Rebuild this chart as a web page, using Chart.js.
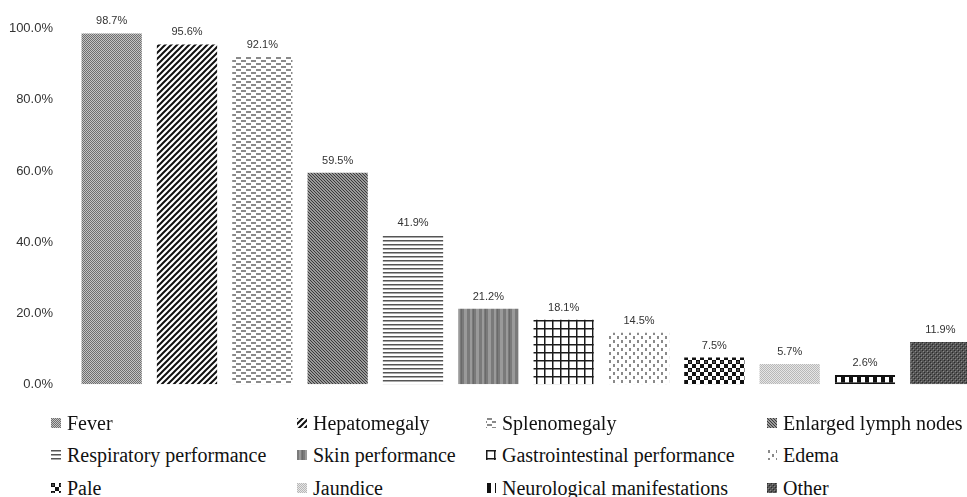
<!DOCTYPE html>
<html>
<head>
<meta charset="utf-8">
<script src="https://cdn.jsdelivr.net/npm/chart.js@4"></script>
<style>
   body { margin: 0; background: #fff; overflow: hidden; width: 967px; height: 497px; position: relative; }
   #wrap { position: absolute; left: 0; top: 0; width: 980px; height: 413px; }
   .legende { position: absolute; font-family: "Liberation Serif", "Times New Roman", serif; font-size: 20px; color: #111; white-space: nowrap; line-height: 22px; }
   .legende canvas { position: absolute; left: -16px; top: 6px; }
</style>
</head>
<body>
<div id="wrap"><canvas id="graphique" width="980" height="413"></canvas></div>
<div id="legende"></div>
<script>
const categories = ['Fever', 'Hepatomegaly', 'Splenomegaly', 'Enlarged lymph nodes',
   'Respiratory performance', 'Skin performance', 'Gastrointestinal performance', 'Edema',
   'Pale', 'Jaundice', 'Neurological manifestations', 'Other'];
const valeurs = [98.7, 95.6, 92.1, 59.5, 41.9, 21.2, 18.1, 14.5, 7.5, 5.7, 2.6, 11.9];
const ticks_y = [0, 20, 40, 60, 80, 100];

// motifs en niveaux de gris, un par barre
function motif(taille_x, taille_y, dessin) {
   const c = document.createElement('canvas');
   c.width = taille_x; c.height = taille_y;
   const g = c.getContext('2d');
   dessin(g, taille_x, taille_y);
   return c;
}

const motifs = [
   // Fever : damier fin gris
   motif(2, 2, (g) => { g.fillStyle = '#c4c4c4'; g.fillRect(0, 0, 2, 2); g.fillStyle = '#6e6e6e'; g.fillRect(0, 0, 1, 1); g.fillRect(1, 1, 1, 1); }),
   // Hepatomegaly : diagonales noires
   motif(6, 6, (g, w, h) => { g.fillStyle = '#fff'; g.fillRect(0, 0, w, h); g.strokeStyle = '#111'; g.lineWidth = 2;
      g.beginPath(); g.moveTo(-1, 7); g.lineTo(7, -1); g.moveTo(-4, 4); g.lineTo(4, -4); g.moveTo(2, 10); g.lineTo(10, 2); g.stroke(); }),
   // Splenomegaly : petits tirets
   motif(10, 6, (g, w, h) => { g.fillStyle = '#fff'; g.fillRect(0, 0, w, h); g.fillStyle = '#8a8a8a';
      g.fillRect(1, 0, 5, 2); g.fillRect(6, 3, 5, 2); g.fillRect(0, 3, 1, 2); }),
   // Enlarged lymph nodes : diagonales serrees
   motif(3, 3, (g) => { g.fillStyle = '#9a9a9a'; g.fillRect(0, 0, 3, 3); g.fillStyle = '#3a3a3a'; g.fillRect(0, 0, 1, 1); g.fillRect(1, 1, 1, 1); g.fillRect(2, 2, 1, 1); }),
   // Respiratory : horizontales
   motif(4, 4, (g) => { g.fillStyle = '#fff'; g.fillRect(0, 0, 4, 4); g.fillStyle = '#555'; g.fillRect(0, 0, 4, 1.5); }),
   // Skin : bandes verticales
   motif(12, 4, (g) => { g.fillStyle = '#7a7a7a'; g.fillRect(0, 0, 12, 4); g.fillStyle = '#9a9a9a'; g.fillRect(2, 0, 2, 4); g.fillRect(8, 0, 3, 4); g.fillStyle = '#6a6a6a'; g.fillRect(5, 0, 1, 4); }),
   // Gastrointestinal : grille
   motif(8, 8, (g) => { g.fillStyle = '#fff'; g.fillRect(0, 0, 8, 8); g.fillStyle = '#1a1a1a'; g.fillRect(0, 0, 8, 1.5); g.fillRect(0, 0, 1.5, 8); }),
   // Edema : points
   motif(8, 8, (g) => { g.fillStyle = '#fff'; g.fillRect(0, 0, 8, 8); g.fillStyle = '#8a8a8a'; g.fillRect(1, 0, 2, 3); g.fillRect(5, 4, 2, 3); }),
   // Pale : damier noir
   motif(8, 8, (g) => { g.fillStyle = '#fff'; g.fillRect(0, 0, 8, 8); g.fillStyle = '#111'; g.fillRect(0, 0, 4, 4); g.fillRect(4, 4, 4, 4);
      g.fillStyle = '#fff'; g.fillRect(1.5, 1.5, 1, 1); }),
   // Jaundice : damier clair
   motif(2, 2, (g) => { g.fillStyle = '#e6e6e6'; g.fillRect(0, 0, 2, 2); g.fillStyle = '#b8b8b8'; g.fillRect(0, 0, 1, 1); g.fillRect(1, 1, 1, 1); }),
   // Neurological : carres noirs
   motif(8, 4, (g) => { g.fillStyle = '#fff'; g.fillRect(0, 0, 8, 4); g.fillStyle = '#111'; g.fillRect(1, 0, 4, 4); }),
   // Other : damier fonce
   motif(4, 4, (g) => { g.fillStyle = '#555'; g.fillRect(0, 0, 4, 4); g.fillStyle = '#2a2a2a'; g.fillRect(0, 0, 1, 1); g.fillRect(2, 2, 1, 1); g.fillStyle = '#888'; g.fillRect(1, 1, 1, 1); g.fillRect(3, 3, 1, 1); })
];

const ctx = document.getElementById('graphique');
const c2d = ctx.getContext('2d');
const fonds = motifs.map(m => c2d.createPattern(m, 'repeat'));

// etiquettes au-dessus des barres
const etiquettes = {
   id: 'etiquettes',
   afterDatasetsDraw(chart) {
      const g = chart.ctx;
      const meta = chart.getDatasetMeta(0);
      g.save();
      g.font = '11px "Liberation Sans Narrow", "Liberation Sans", Arial, sans-serif';
      g.fillStyle = '#333';
      g.textAlign = 'center';
      g.textBaseline = 'alphabetic';
      meta.data.forEach((bar, i) => {
         g.fillText(valeurs[i].toFixed(1) + '%', bar.x, bar.y - 9);
      });
      g.restore();
   }
};

const myChart = new Chart(ctx, {
   type: 'bar',
   data: {
      labels: categories,
      datasets: [{
         data: valeurs,
         backgroundColor: fonds,
         borderColor: categories.map((c, i) => i === 10 ? '#111' : 'transparent'),
         borderWidth: categories.map((c, i) => i === 10 ? { top: 2, bottom: 2, left: 0, right: 0 } : 0),
         borderSkipped: false,
         barPercentage: 0.8,
         categoryPercentage: 1
      }]
   },
   options: {
      responsive: false,
      animation: false,
      layout: {
         padding: { top: 28, bottom: 8, right: 2, left: 0 }
      },
      scales: {
         x: {
            display: false
         },
         y: {
            min: 0,
            max: 100,
            afterFit: (s) => { s.width = 74; },
            afterBuildTicks: (s) => { s.ticks = ticks_y.map(v => ({ value: v })); },
            ticks: {
               padding: 21,
               color: '#333',
               font: { family: '"Liberation Sans", Arial, sans-serif', size: 13 },
               callback: (v) => v.toFixed(1) + '%'
            },
            grid: { display: false, drawTicks: false },
            border: { display: false }
         }
      },
      plugins: {
         legend: { display: false },
         tooltip: { enabled: false }
      }
   },
   plugins: [etiquettes]
});

// legende en texte, 4 colonnes x 3 lignes
const colonnes = [67, 313, 502, 783];
const lignes = [412, 444, 477];
const LEG = document.getElementById('legende');
categories.forEach((nom, i) => {
   const div = document.createElement('div');
   div.className = 'legende';
   div.style.left = colonnes[i % 4] + 'px';
   div.style.top = lignes[Math.floor(i / 4)] + 'px';
   div.textContent = nom;
   const pastille = document.createElement('canvas');
   pastille.width = 10; pastille.height = 10;
   const pg = pastille.getContext('2d');
   pg.fillStyle = pg.createPattern(motifs[i], 'repeat');
   pg.fillRect(0, 0, 10, 10);
   div.appendChild(pastille);
   LEG.appendChild(div);
});
</script>
</body>
</html>
